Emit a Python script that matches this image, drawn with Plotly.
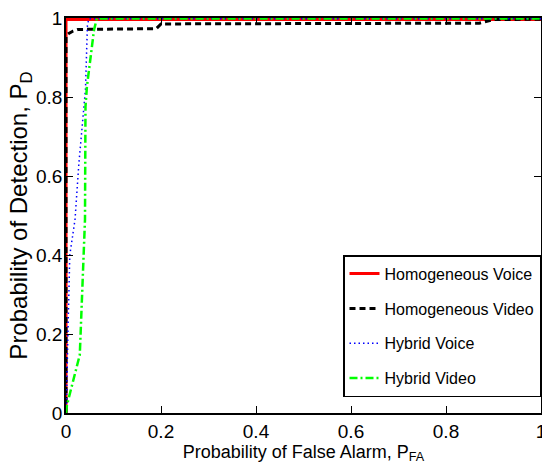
import plotly.graph_objects as go

# Data (ROC curves)
hom_voice_pfa = [0.0, 0.0, 1.0]
hom_voice_pd = [0.0, 0.996, 0.996]

hom_video_pfa = [0.0, 0.0, 0.005, 0.015, 0.025, 0.10, 0.19, 0.20, 0.50, 0.87, 0.90, 1.0]
hom_video_pd = [0.0, 0.955, 0.960, 0.967, 0.971, 0.972, 0.973, 0.985, 0.986, 0.987, 0.996, 0.997]

hyb_voice_pfa = [0.0, 0.001, 0.004, 0.008, 0.019, 0.027, 0.041, 0.045, 0.048, 1.0]
hyb_voice_pd = [0.0, 0.03, 0.20, 0.40, 0.49, 0.63, 0.82, 0.98, 0.998, 0.998]

hyb_video_pfa = [0.0, 0.002, 0.029, 0.040, 0.041, 0.044, 0.059, 0.065, 1.0]
hyb_video_pd = [0.0, 0.02, 0.147, 0.49, 0.775, 0.826, 0.97, 0.999, 0.999]

x_ticks = [0, 0.2, 0.4, 0.6, 0.8, 1]
x_tick_text = ["0", "0.2", "0.4", "0.6", "0.8", "1"]
y_ticks = [0, 0.2, 0.4, 0.6, 0.8, 1]
y_tick_text = ["0", "0.2", "0.4", "0.6", "0.8", "1"]

FONT = "Liberation Sans, Arial, Helvetica, sans-serif"

fig = go.Figure()
fig.add_trace(go.Scatter(x=hom_voice_pfa, y=hom_voice_pd, mode="lines",
                         name="Homogeneous Voice", legendgroup="a",
                         line=dict(color="#ff0000", width=3, dash="solid")))
fig.add_trace(go.Scatter(x=hom_video_pfa, y=hom_video_pd, mode="lines",
                         name="Homogeneous Video", legendgroup="b",
                         line=dict(color="#000000", width=3, dash="6px,4px")))
fig.add_trace(go.Scatter(x=hyb_voice_pfa, y=hyb_voice_pd, mode="lines",
                         name="Hybrid Voice", legendgroup="c",
                         line=dict(color="#0000ff", width=1.5, dash="1.5px,3px")))
fig.add_trace(go.Scatter(x=hyb_video_pfa, y=hyb_video_pd, mode="lines",
                         name="Hybrid Video", legendgroup="d",
                         line=dict(color="#00ff00", width=2.5, dash="8px,3px,2px,3px")))

axis_common = dict(
    range=[0, 1], showgrid=False, zeroline=False,
    showline=True, linecolor="black", linewidth=1.5, mirror="ticks",
    ticks="inside", ticklen=7, tickwidth=1, tickcolor="black",
    tickfont=dict(family=FONT, size=19, color="black"),
    ticklabeloverflow="allow",
)

fig.update_xaxes(**axis_common, tickvals=x_ticks, ticktext=x_tick_text,
                 title=dict(text="Probability of False Alarm, P<sub>FA</sub>",
                            font=dict(family=FONT, size=18, color="black"),
                            standoff=3))
fig.update_yaxes(**axis_common, tickvals=y_ticks, ticktext=y_tick_text,
                 ticklabelstandoff=-2,
                 title=dict(text="Probability of Detection, P<sub>D</sub>",
                            font=dict(family=FONT, size=24, color="black"),
                            standoff=0))

fig.update_layout(
    width=542, height=474,
    margin=dict(l=66, r=1, t=18, b=61, autoexpand=False),
    paper_bgcolor="white", plot_bgcolor="white",
    showlegend=True,
    legend=dict(
        x=1, xanchor="right", y=0.04, yanchor="bottom",
        bgcolor="white", bordercolor="black", borderwidth=1.5,
        font=dict(family=FONT, size=16, color="black"),
        tracegroupgap=11, itemwidth=30,
    ),
)

fig.write_html("out.html")
